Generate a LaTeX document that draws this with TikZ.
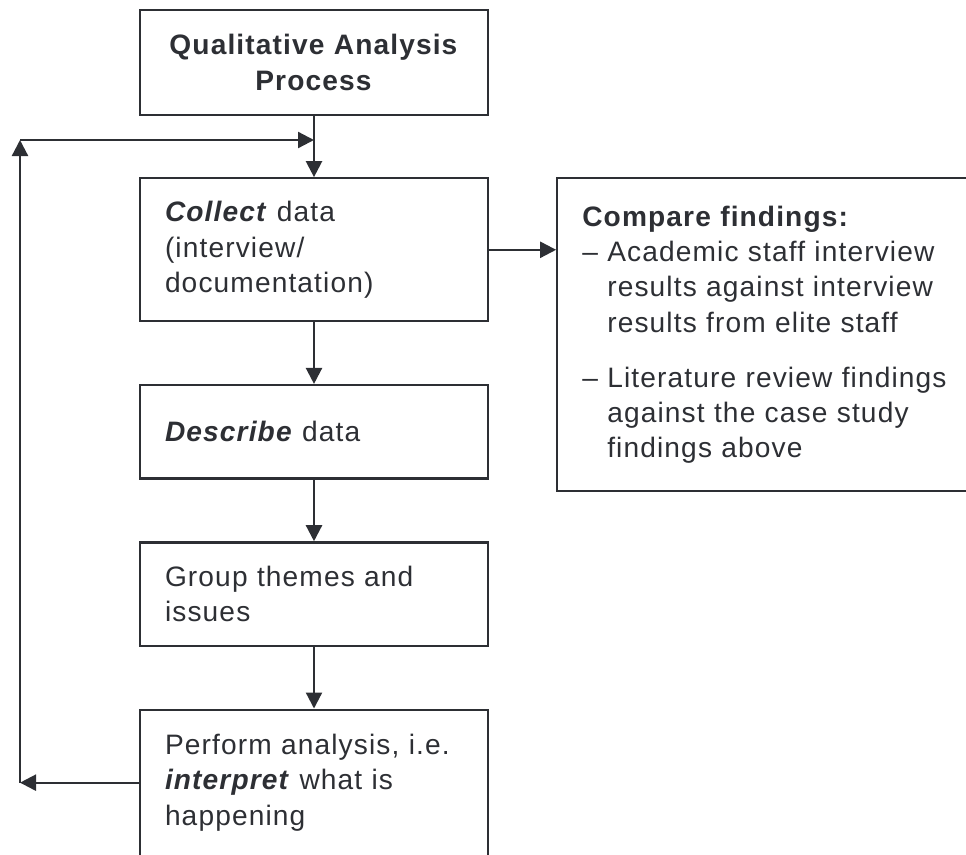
\documentclass[tikz,border=0pt]{standalone}
\usepackage{fontspec}
\usepackage{xcolor}
\usepackage{tikz}
\usetikzlibrary{arrows.meta,positioning}
\setmainfont{Liberation Sans}[LetterSpace=4]
\definecolor{inkgray}{RGB}{45, 47, 52}
\tikzset{
 procbox/.style={
 rectangle,
 draw=inkgray,
 line width=1.3pt,
 text=inkgray,
 align=left,
 text width=5.96cm,
 inner xsep=0.5cm,
 inner ysep=0pt,
 font=\fontsize{16}{20}\selectfont
 },
 notebox/.style={
 procbox,
 text width=7.7cm
 },
 flowarrow/.style={-{Triangle[length=0.32cm,width=0.32cm]}, line width=1.3pt, draw=inkgray}
}

\begin{document}
\begin{tikzpicture}[node distance=1.23cm and 1.34cm]
 \useasboundingbox (0,0) rectangle (19.32,-17.08);
 \node[procbox, align=center, minimum height=2.1cm] (title) at (6.28,-1.25)
 {\textbf{Qualitative Analysis}\\\textbf{Process}};
 \node[procbox, minimum height=2.86cm, below=1.22cm of title] (collect)
 {\textbf{\textit{Collect}} data\\(interview/\\documentation)};
 \node[procbox, minimum height=1.87cm, below=of collect] (describe)
 {\textbf{\textit{Describe}} data};
 \node[procbox, minimum height=2.07cm, below=of describe] (group)
 {Group themes and\\issues};
 \node[procbox, minimum height=2.92cm, below=of group] (perform)
 {Perform analysis, i.e.\\\textbf{\textit{interpret}} what is\\happening};
 \node[notebox, minimum height=6.26cm, below right=0cm and 1.34cm of collect.north east] (compare)
 {\textbf{Compare findings:}\\
 \makebox[0.5cm][l]{--}Academic staff interview\\
 \hspace*{0.5cm}results against interview\\
 \hspace*{0.5cm}results from elite staff\\[0.4cm]
 \makebox[0.5cm][l]{--}Literature review findings\\
 \hspace*{0.5cm}against the case study\\
 \hspace*{0.5cm}findings above};

 \coordinate (leftrail) at (0.4,-2.8);
 \coordinate (loopbot) at (perform.west -| leftrail);
 \coordinate (looptop) at (title.south |- leftrail);

 \draw[flowarrow] (title) -- (collect);
 \draw[flowarrow] (collect) -- (describe);
 \draw[flowarrow] (describe) -- (group);
 \draw[flowarrow] (group) -- (perform);
 \draw[flowarrow] (collect.east) -- (collect.east -| compare.west);
 \draw[flowarrow] (perform.west) -- (loopbot);
 \draw[flowarrow] (loopbot) -- (leftrail);
 \draw[flowarrow] (leftrail) -- (looptop);
\end{tikzpicture}
\end{document}
